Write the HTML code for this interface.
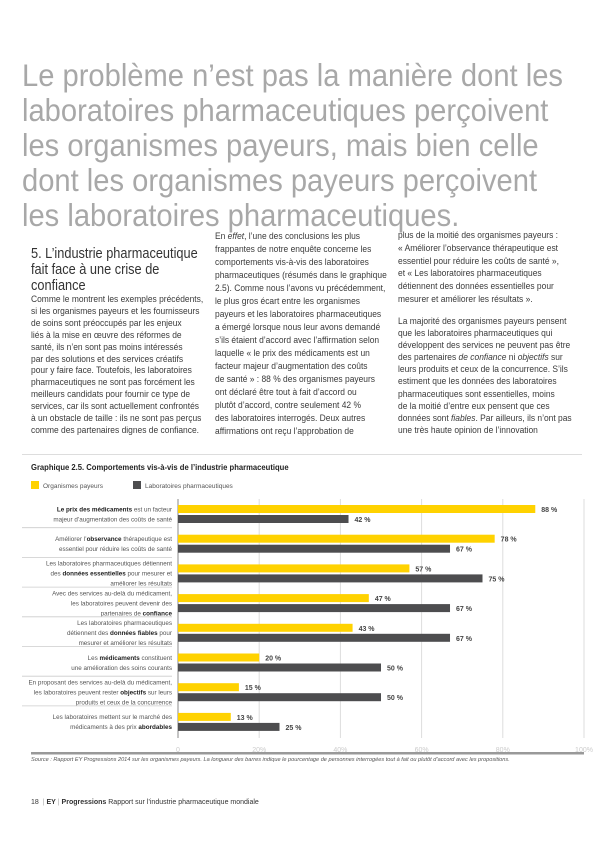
<!DOCTYPE html>
<html><head><meta charset="utf-8">
<style>
body{margin:0;background:#fff;font-family:"Liberation Sans",sans-serif;}
#page{position:relative;width:600px;height:848px;overflow:hidden;background:#fff}
.hl{position:absolute;left:22px;top:58px;font-size:31.5px;line-height:35px;color:#a8a8a8;white-space:nowrap;transform:scaleX(0.925);transform-origin:0 0}
.col{position:absolute;font-size:9.6px;color:#3a3a3a;white-space:nowrap;transform:scaleX(0.88);transform-origin:0 0}
.h5{position:absolute;left:31px;top:246px;font-size:14.5px;line-height:16px;color:#333;white-space:nowrap;transform:scaleX(0.88);transform-origin:0 0}
.chart-title{position:absolute;left:31px;top:462px;font-size:8.5px;font-weight:bold;color:#222;white-space:nowrap;transform:scaleX(0.9);transform-origin:0 0}
.topline{position:absolute;left:22px;top:454px;width:560px;height:1px;background:#ddd}
.source{position:absolute;left:31px;top:757px;font-size:5.6px;font-style:italic;color:#555;white-space:nowrap}
.footer{position:absolute;left:31px;top:799px;font-size:7px;color:#333}
</style></head><body>
<div id="page">
<div class="hl">Le problème n’est pas la manière dont les<br>laboratoires pharmaceutiques perçoivent<br>les organismes payeurs, mais bien celle<br>dont les organismes payeurs perçoivent<br>les laboratoires pharmaceutiques.</div>

<div class="h5">5. L’industrie pharmaceutique<br>fait face à une crise de<br>confiance</div>
<div class="col" style="left:31px;top:294px;line-height:11.9px">Comme le montrent les exemples précédents,<br>si les organismes payeurs et les fournisseurs<br>de soins sont préoccupés par les enjeux<br>liés à la mise en œuvre des réformes de<br>santé, ils n’en sont pas moins intéressés<br>par des solutions et des services créatifs<br>pour y faire face. Toutefois, les laboratoires<br>pharmaceutiques ne sont pas forcément les<br>meilleurs candidats pour fournir ce type de<br>services, car ils sont actuellement confrontés<br>à un obstacle de taille : ils ne sont pas perçus<br>comme des partenaires dignes de confiance.</div>
<div class="col" style="left:215px;top:230px;line-height:13px">En <i>effet</i>, l’une des conclusions les plus<br>frappantes de notre enquête concerne les<br>comportements vis-à-vis des laboratoires<br>pharmaceutiques (résumés dans le graphique<br>2.5). Comme nous l’avons vu précédemment,<br>le plus gros écart entre les organismes<br>payeurs et les laboratoires pharmaceutiques<br>a émergé lorsque nous leur avons demandé<br>s’ils étaient d’accord avec l’affirmation selon<br>laquelle « le prix des médicaments est un<br>facteur majeur d’augmentation des coûts<br>de santé » : 88 % des organismes payeurs<br>ont déclaré être tout à fait d’accord ou<br>plutôt d’accord, contre seulement 42 %<br>des laboratoires interrogés. Deux autres<br>affirmations ont reçu l’approbation de</div>
<div class="col" style="left:398px;top:230px;line-height:12.8px">plus de la moitié des organismes payeurs :<br>« Améliorer l’observance thérapeutique est<br>essentiel pour réduire les coûts de santé »,<br>et « Les laboratoires pharmaceutiques<br>détiennent des données essentielles pour<br>mesurer et améliorer les résultats ».</div>
<div class="col" style="left:398px;top:316px;line-height:12.1px">La majorité des organismes payeurs pensent<br>que les laboratoires pharmaceutiques qui<br>développent des services ne peuvent pas être<br>des partenaires <i>de confiance</i> ni <i>objectifs</i> sur<br>leurs produits et ceux de la concurrence. S’ils<br>estiment que les données des laboratoires<br>pharmaceutiques sont essentielles, moins<br>de la moitié d’entre eux pensent que ces<br>données sont <i>fiables</i>. Par ailleurs, ils n’ont pas<br>une très haute opinion de l’innovation</div>

<div class="topline"></div>
<div class="chart-title">Graphique 2.5. Comportements vis-à-vis de l’industrie pharmaceutique</div>
<svg id="chart" width="600" height="848" style="position:absolute;left:0;top:0"></svg>
<div class="source">Source : Rapport EY Progressions 2014 sur les organismes payeurs. La longueur des barres indique le pourcentage de personnes interrogées tout à fait ou plutôt d’accord avec les propositions.</div>
<div class="footer">18 &nbsp;<span style="color:#aaa">|</span> <b>EY</b> <span style="color:#aaa">|</span> <b>Progressions</b> Rapport sur l’industrie pharmaceutique mondiale</div>
</div>
<script>
const categories=[
["<tspan font-weight='bold' fill='#222'>Le prix des médicaments</tspan> est un facteur","majeur d’augmentation des coûts de santé"],
["Améliorer l’<tspan font-weight='bold' fill='#222'>observance</tspan> thérapeutique est","essentiel pour réduire les coûts de santé"],
["Les laboratoires pharmaceutiques détiennent","des <tspan font-weight='bold' fill='#222'>données essentielles</tspan> pour mesurer et","améliorer les résultats"],
["Avec des services au-delà du médicament,","les laboratoires peuvent devenir des","partenaires de <tspan font-weight='bold' fill='#222'>confiance</tspan>"],
["Les laboratoires pharmaceutiques","détiennent des <tspan font-weight='bold' fill='#222'>données fiables</tspan> pour","mesurer et améliorer les résultats"],
["Les <tspan font-weight='bold' fill='#222'>médicaments</tspan> constituent","une amélioration des soins courants"],
["En proposant des services au-delà du médicament,","les laboratoires peuvent rester <tspan font-weight='bold' fill='#222'>objectifs</tspan> sur leurs","produits et ceux de la concurrence"],
["Les laboratoires mettent sur le marché des","médicaments à des prix <tspan font-weight='bold' fill='#222'>abordables</tspan>"]];
const payeurs=[88,78,57,47,43,20,15,13];
const labos=[42,67,75,67,67,50,50,25];
const ticks=[0,20,40,60,80,100];
const tickLabels=["0","20%","40%","60%","80%","100%"];
const seriesNames=["Organismes payeurs","Laboratoires pharmaceutiques"];

const svg=document.getElementById('chart');
const NS='http://www.w3.org/2000/svg';
const X0=178,X1=584,TOP=499,BOT=738,ROW=29.7,FIRST=502;
const x=v=>X0+(v/100)*(X1-X0);
const rowY=i=>FIRST+i*ROW;
function mk(tag,attrs){const e=document.createElementNS(NS,tag);for(const k in attrs)e.setAttribute(k,attrs[k]);svg.appendChild(e);return e;}
const cols=['#ffd200','#4d4d4f'];
[[31,'#ffd200'],[133,'#4d4d4f']].forEach((p,i)=>{
 const r=mk('rect',{x:p[0],y:481,width:8,height:8,fill:p[1]});
 
 
 const t=mk('text',{x:p[0]+12,y:488,'font-size':'6.5','fill':'#555','font-family':'Liberation Sans'});
 t.textContent=seriesNames[i];
 
 
});
ticks.forEach((t,i)=>{
 const l=mk('line',{x1:x(t),x2:x(t),y1:TOP,y2:BOT,stroke:i==0?'#888':'#ddd','stroke-width':1});
 
 
 const tx=mk('text',{x:x(t),y:752,'font-size':'7','fill':'#ccc','text-anchor':'middle','font-family':'Liberation Sans'});
 tx.textContent=tickLabels[i];
 
 
});
const bl=mk('rect',{x:31,y:752,width:553,height:2.5,fill:'#999'});


categories.forEach((c,i)=>{
 const y=rowY(i);
 const n=c.length;
 const cy=y+12;
 c.forEach((line,j)=>{
  const t=mk('text',{x:172,y:cy-(n-1)*5+j*10+2.3,'font-size':'6.3','fill':'#555','text-anchor':'end','font-family':'Liberation Sans'});
  t.innerHTML=line;
  
  
 });
 if(i>0){const s=mk('line',{x1:22,x2:172,y1:y-4,y2:y-4,stroke:'#ccc','stroke-width':0.8});
  
  }
 const b1=mk('rect',{x:X0,y:y+3,width:x(payeurs[i])-X0,height:8,fill:cols[0]});
 
 
 const b2=mk('rect',{x:X0,y:y+13,width:x(labos[i])-X0,height:8,fill:cols[1]});
 
 
 const v1=mk('text',{x:x(payeurs[i])+6,y:y+10,'font-size':'7','font-weight':'bold','fill':'#444','font-family':'Liberation Sans'});
 v1.textContent=payeurs[i]+' %';
 
 
 const v2=mk('text',{x:x(labos[i])+6,y:y+20,'font-size':'7','font-weight':'bold','fill':'#444','font-family':'Liberation Sans'});
 v2.textContent=labos[i]+' %';
 
 
});
</script>
</body></html>
